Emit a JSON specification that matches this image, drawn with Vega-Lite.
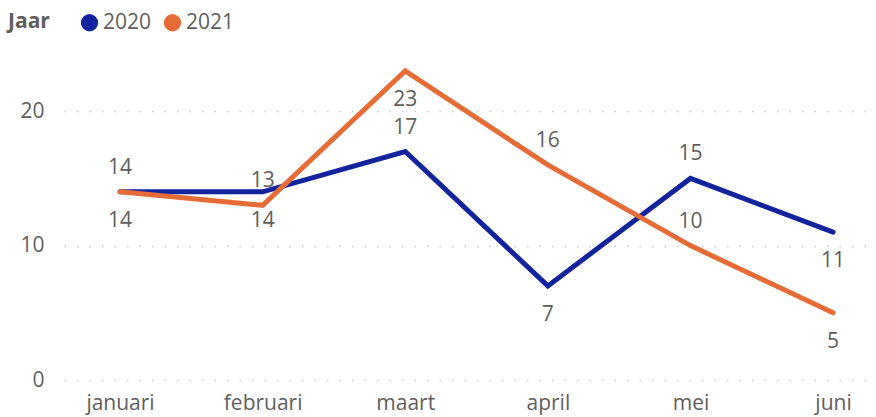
{
  "$schema": "https://vega.github.io/schema/vega-lite/v6.json",
  "width": 808,
  "height": 336,
  "autosize": {"type": "none"},
  "padding": {"left": 64, "top": 44, "right": 4, "bottom": 37},
  "background": "white",
  "config": {
    "view": {"stroke": null},
    "font": "Open Sans",
    "text": {"font": "Open Sans"}
  },
  "data": {
    "values": [
      {"maand": "januari", "jaar": "2020", "aantal": 14},
      {"maand": "februari", "jaar": "2020", "aantal": 14},
      {"maand": "maart", "jaar": "2020", "aantal": 17},
      {"maand": "april", "jaar": "2020", "aantal": 7},
      {"maand": "mei", "jaar": "2020", "aantal": 15},
      {"maand": "juni", "jaar": "2020", "aantal": 11},
      {"maand": "januari", "jaar": "2021", "aantal": 14},
      {"maand": "februari", "jaar": "2021", "aantal": 13},
      {"maand": "maart", "jaar": "2021", "aantal": 23},
      {"maand": "april", "jaar": "2021", "aantal": 16},
      {"maand": "mei", "jaar": "2021", "aantal": 10},
      {"maand": "juni", "jaar": "2021", "aantal": 5}
    ]
  },
  "encoding": {
    "x": {
      "field": "maand", "type": "ordinal",
      "sort": ["januari", "februari", "maart", "april", "mei", "juni"],
      "scale": {"type": "point", "padding": 0.333, "align": 0.59},
      "axis": {
        "title": null, "domain": false, "ticks": false, "labelAngle": 0,
        "labelFontSize": 21, "labelColor": "#605E5C", "labelPadding": 12,
        "labelFont": "Open Sans"
      }
    },
    "y": {
      "field": "aantal", "type": "quantitative",
      "scale": {"domain": [0, 25], "nice": false},
      "axis": {
        "title": null, "domain": false, "ticks": false, "values": [0, 10, 20],
        "labelFontSize": 21, "labelColor": "#605E5C", "labelPadding": 20,
        "labelFont": "Open Sans",
        "grid": true, "gridColor": "#C8C8C8", "gridWidth": 1.5, "gridDash": [1.5, 11]
      }
    }
  },
  "layer": [
    {
      "mark": {"type": "line", "strokeWidth": 5, "strokeCap": "round"},
      "encoding": {
        "color": {
          "field": "jaar", "type": "nominal",
          "scale": {"domain": ["2020", "2021"], "range": ["#12239E", "#E66C37"]},
          "legend": {
            "orient": "none", "legendX": -56, "legendY": -32, "direction": "horizontal",
            "title": "Jaar", "titleOrient": "left", "titleFontSize": 21, "titleFontWeight": "bold",
            "titleColor": "#605E5C", "titleFont": "Open Sans", "titlePadding": 29,
            "labelFontSize": 21, "labelColor": "#605E5C", "labelFont": "Open Sans",
            "symbolType": "circle", "symbolSize": 300,
            "symbolOpacity": 1, "labelOffset": 3, "columnPadding": 10,
            "encode": {"symbols": {"update": {"fill": {"scale": "color", "field": "value"}, "strokeWidth": {"value": 0}}}}
          }
        }
      }
    },
    {
      "transform": [{"filter": "(datum.jaar == '2020' && indexof(['januari','maart','mei'], datum.maand) >= 0) || (datum.jaar == '2021' && indexof(['februari','april','mei'], datum.maand) >= 0)"}],
      "mark": {"type": "text", "dy": -24, "fontSize": 21, "color": "#605E5C", "font": "Open Sans"},
      "encoding": {"text": {"field": "aantal", "type": "quantitative"}}
    },
    {
      "transform": [{"filter": "(datum.jaar == '2020' && indexof(['februari','april','juni'], datum.maand) >= 0) || (datum.jaar == '2021' && indexof(['januari','maart','juni'], datum.maand) >= 0)"}],
      "mark": {"type": "text", "dy": 29, "fontSize": 21, "color": "#605E5C", "font": "Open Sans"},
      "encoding": {"text": {"field": "aantal", "type": "quantitative"}}
    }
  ]
}
